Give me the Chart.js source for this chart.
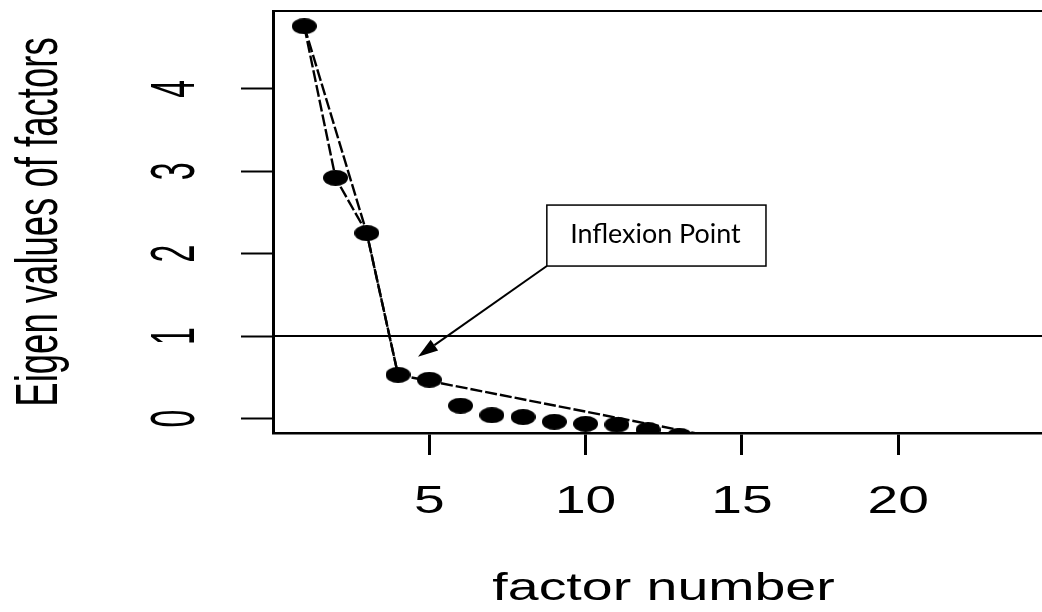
<!DOCTYPE html>
<html>
<head>
<meta charset="utf-8">
<title>Scree plot</title>
<script src="https://cdn.jsdelivr.net/npm/chart.js@4/dist/chart.umd.min.js"></script>
<style>
  html, body { margin: 0; padding: 0; background: #fff; overflow: hidden; }
  canvas { display: block; }
</style>
</head>
<body>
<canvas id="scree" width="1042" height="612"></canvas>
<script>
// eigenvalues of the factors, in order
const factorNumbers = [1, 2, 3, 4, 5, 6, 7, 8, 9, 10, 11, 12, 13];
const eigenValues = [4.76, 2.92, 2.25, 0.53, 0.47, 0.155, 0.04, 0.018, -0.04, -0.065, -0.075, -0.14, -0.21];

// dashed line through the first eigenvalues
const traceX = [1, 2, 3, 4];
const traceY = [4.76, 2.92, 2.25, 0.53];

// dashed fitted line, leaves the plot at the bottom
const fitX = [1, 3, 4, 14];
const fitY = [4.76, 2.25, 0.53, -0.214];

// Kaiser cut-off
const cutoff = 1;

const xTicks = [5, 10, 15, 20];
const yTicks = [0, 1, 2, 3, 4];

const xLabel = 'factor number';
const yLabel = 'Eigen values of factors';

// callout box + arrow, placed in data units
const callout = {
    text: 'Inflexion Point',
    left: 8.76, right: 15.77, top: 2.59, bottom: 1.85,
    tipX: 4.64, tipY: 0.75
};

const RFONT = '"Liberation Sans", Arial, sans-serif';
const NOTEFONT = 'Lato, "Open Sans", sans-serif';

// filled dot, a bit wider than tall
function makeDot(w, h) {
    const c = document.createElement('canvas');
    c.width = w;
    c.height = h;
    const g = c.getContext('2d');
    g.fillStyle = '#000';
    g.beginPath();
    g.ellipse(w / 2, h / 2, w / 2, h / 2, 0, 0, Math.PI * 2);
    g.fill();
    return c;
}

function drawStretched(ctx, text, px, py, angle, size, sx, sy, family) {
    ctx.save();
    ctx.translate(px, py);
    ctx.rotate(angle);
    ctx.scale(sx, sy);
    ctx.font = size + 'px ' + family;
    ctx.fillStyle = '#000';
    ctx.textAlign = 'center';
    ctx.textBaseline = 'alphabetic';
    ctx.fillText(text, 0, 0);
    ctx.restore();
}

const labelsPlugin = {
    id: 'rLabels',
    afterDraw(chart) {
        const { ctx, chartArea, scales: { x, y } } = chart;

        // cut-off line
        const cy = y.getPixelForValue(cutoff);
        ctx.save();
        ctx.strokeStyle = '#000';
        ctx.lineWidth = 2;
        ctx.beginPath();
        ctx.moveTo(chartArea.left, cy);
        ctx.lineTo(chartArea.right, cy);
        ctx.stroke();
        ctx.restore();

        // tick labels
        x.ticks.forEach(t => {
            drawStretched(ctx, String(t.value), x.getPixelForValue(t.value), chartArea.bottom + 80,
                0, 38, 1.45, 1, RFONT);
        });
        y.ticks.forEach(t => {
            drawStretched(ctx, String(t.value), chartArea.left - 79, y.getPixelForValue(t.value),
                -Math.PI / 2, 32, 1, 1.95, RFONT);
        });

        // axis titles
        const midX = (chartArea.left + chartArea.right) / 2;
        const midY = (chartArea.top + chartArea.bottom) / 2;
        drawStretched(ctx, xLabel, midX + 6, chartArea.bottom + 167, 0, 38, 1.46, 1, RFONT);
        drawStretched(ctx, yLabel, chartArea.left - 216, midY, -Math.PI / 2, 36.5, 1, 1.6, RFONT);

        // callout
        const bl = x.getPixelForValue(callout.left);
        const br = x.getPixelForValue(callout.right);
        const bt = y.getPixelForValue(callout.top);
        const bb = y.getPixelForValue(callout.bottom);
        const tx = x.getPixelForValue(callout.tipX);
        const ty = y.getPixelForValue(callout.tipY);

        ctx.save();
        ctx.fillStyle = '#fff';
        ctx.fillRect(bl, bt, br - bl, bb - bt);
        ctx.strokeStyle = '#000';
        ctx.lineWidth = 1.5;
        ctx.strokeRect(bl, bt, br - bl, bb - bt);

        ctx.font = '26.5px ' + NOTEFONT;
        const m = ctx.measureText(callout.text);
        const inkW = m.actualBoundingBoxLeft + m.actualBoundingBoxRight;
        drawStretched(ctx, callout.text, (bl + br) / 2 - 1, bb - 23, 0, 26.5, 169 / inkW, 1, NOTEFONT);

        // arrow from the box corner to the elbow
        const ang = Math.atan2(ty - bb, tx - bl);
        const headLen = 20, headHalf = 6.5;
        const baseX = tx - headLen * Math.cos(ang);
        const baseY = ty - headLen * Math.sin(ang);
        ctx.lineWidth = 2;
        ctx.beginPath();
        ctx.moveTo(bl, bb);
        ctx.lineTo(baseX, baseY);
        ctx.stroke();
        ctx.fillStyle = '#000';
        ctx.beginPath();
        ctx.moveTo(tx, ty);
        ctx.lineTo(baseX + headHalf * Math.sin(ang), baseY - headHalf * Math.cos(ang));
        ctx.lineTo(baseX - headHalf * Math.sin(ang), baseY + headHalf * Math.cos(ang));
        ctx.closePath();
        ctx.fill();
        ctx.restore();
    }
};

const toPoints = (xs, ys) => xs.map((v, i) => ({ x: v, y: ys[i] }));

const lineStyle = {
    showLine: true,
    borderColor: '#000',
    borderWidth: 2.4,
    borderDash: [12, 3],
    pointRadius: 0,
    fill: false,
    clip: 0
};

new Chart(document.getElementById('scree'), {
    type: 'scatter',
    data: {
        datasets: [
            Object.assign({ data: toPoints(traceX, traceY) }, lineStyle),
            Object.assign({ data: toPoints(fitX, fitY) }, lineStyle),
            {
                data: toPoints(factorNumbers, eigenValues),
                pointStyle: makeDot(25, 16),
                pointRadius: 8,
                clip: 0
            }
        ]
    },
    options: {
        responsive: false,
        animation: false,
        events: [],
        layout: { autoPadding: false, padding: { top: 11, left: 0, right: 0, bottom: 0 } },
        plugins: { legend: { display: false }, tooltip: { enabled: false } },
        scales: {
            x: {
                type: 'linear',
                position: 'bottom',
                min: 0,
                max: 24.6,
                afterBuildTicks: s => { s.ticks = xTicks.map(v => ({ value: v })); },
                afterFit: s => { s.height = 179; },
                ticks: { display: false },
                grid: { drawOnChartArea: false, drawTicks: true, tickLength: 22, tickWidth: 3, tickColor: '#000' },
                border: { display: true, color: '#000', width: 2.5, z: 1 }
            },
            top: {
                type: 'linear',
                position: 'top',
                afterFit: s => { s.height = 0; },
                ticks: { display: false },
                grid: { display: false },
                border: { display: true, color: '#000', width: 2, z: 1 }
            },
            y: {
                type: 'linear',
                min: -0.176,
                max: 4.945,
                afterBuildTicks: s => { s.ticks = yTicks.map(v => ({ value: v })); },
                afterFit: s => { s.width = 273; },
                ticks: { display: false },
                grid: { drawOnChartArea: false, drawTicks: true, tickLength: 32, tickWidth: 2, tickColor: '#000' },
                border: { display: true, color: '#000', width: 3, z: 1 }
            }
        }
    },
    plugins: [labelsPlugin]
});
</script>
</body>
</html>
